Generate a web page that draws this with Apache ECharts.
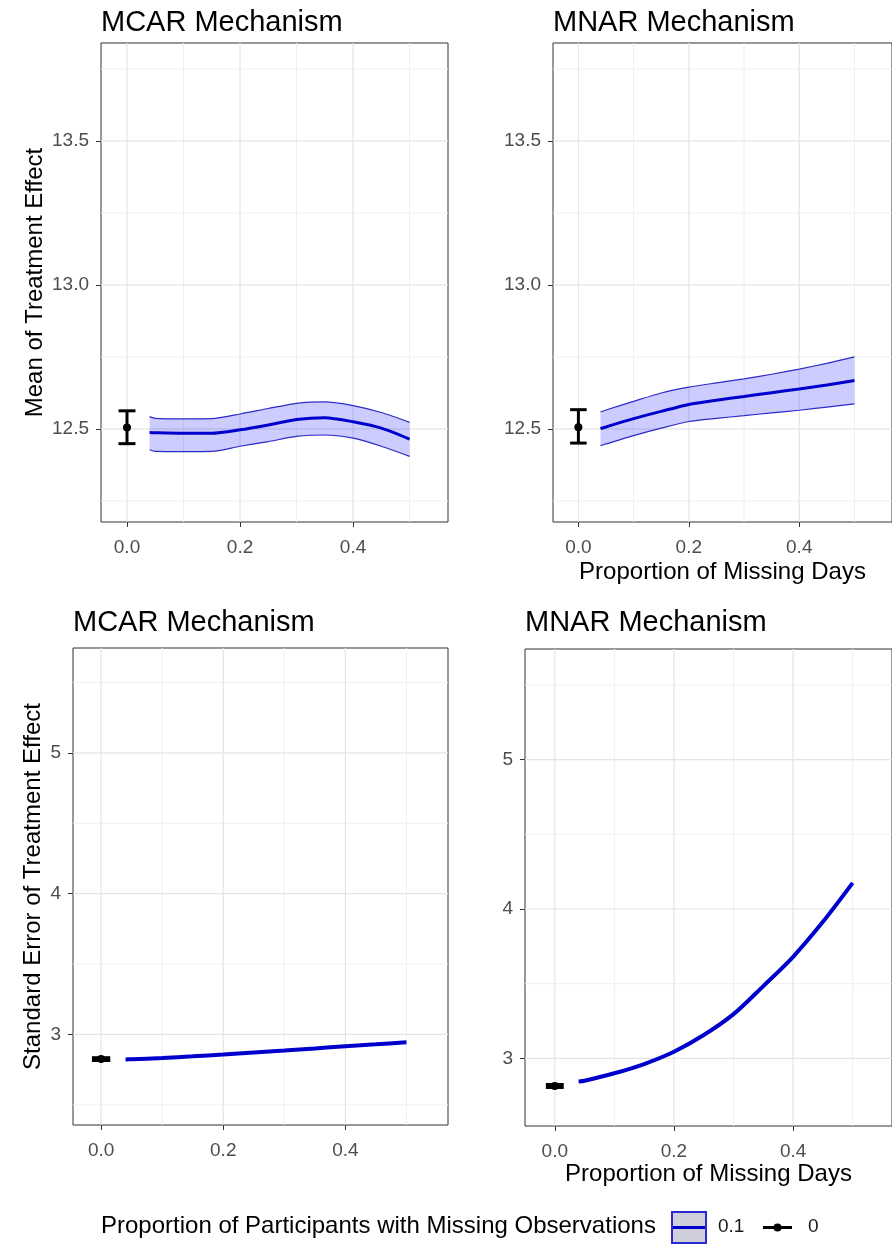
<!DOCTYPE html>
<html>
<head>
<meta charset="utf-8">
<script src="https://cdn.jsdelivr.net/npm/echarts@6/dist/echarts.min.js"></script>
<style>
html,body{margin:0;padding:0;background:#fff;overflow:hidden;}
#c{width:892px;height:1245px;}
</style>
</head>
<body>
<div id="c"></div>
<script>
// ---------------- data ----------------
const xs = [0.04, 0.05, 0.1, 0.15, 0.2, 0.25, 0.3, 0.35, 0.4, 0.45, 0.5];

// MCAR mean of treatment effect (proportion participants 0.1)
const mcarMean  = [12.488, 12.487, 12.485, 12.485, 12.497, 12.514, 12.533, 12.539, 12.525, 12.503, 12.465];
const mcarUpper = [12.543, 12.537, 12.535, 12.536, 12.552, 12.571, 12.589, 12.594, 12.581, 12.557, 12.523];
const mcarLower = [12.428, 12.422, 12.421, 12.422, 12.440, 12.456, 12.474, 12.479, 12.468, 12.440, 12.405];

// MNAR mean of treatment effect
const mnarMean  = [12.501, 12.507, 12.536, 12.561, 12.585, 12.600, 12.613, 12.626, 12.639, 12.653, 12.668];
const mnarUpper = [12.559, 12.566, 12.596, 12.625, 12.645, 12.660, 12.674, 12.690, 12.708, 12.728, 12.750];
const mnarLower = [12.442, 12.448, 12.477, 12.503, 12.526, 12.537, 12.546, 12.556, 12.565, 12.576, 12.587];

// Standard error of treatment effect
const mcarSE = [2.822, 2.824, 2.833, 2.845, 2.858, 2.872, 2.886, 2.901, 2.917, 2.930, 2.945];
const mnarSE = [2.845, 2.850, 2.900, 2.962, 3.044, 3.156, 3.296, 3.484, 3.680, 3.914, 4.175];

// proportion of participants = 0 (x, mean, lower, upper)
const zeroMeanMCAR = [0, 12.505, 12.449, 12.563];
const zeroMeanMNAR = [0, 12.506, 12.451, 12.567];
const zeroSEMCAR   = [0, 2.825, 2.815, 2.835];
const zeroSEMNAR   = [0, 2.815, 2.805, 2.825];

// ticks / gridlines
const xTicks = [0, 0.2, 0.4];
const xMinor = [0.1, 0.3, 0.5];
const meanTicks = [12.5, 13.0, 13.5];
const meanMinor = [12.25, 12.75, 13.25, 13.75];
const seTicks = [3, 4, 5];
const seMinor = [2.5, 3.5, 4.5, 5.5];

const titles = ['MCAR Mechanism', 'MNAR Mechanism', 'MCAR Mechanism', 'MNAR Mechanism'];
const xTitle = 'Proportion of Missing Days';
const yTitleMean = 'Mean of Treatment Effect';
const yTitleSE = 'Standard Error of Treatment Effect';
const legendTitle = 'Proportion of Participants with Missing Observations';
const legendLabels = ['0.1', '0'];

// ---------------- styling ----------------
const FONT = '"Liberation Sans", Arial, Helvetica, sans-serif';
const BLUE = '#0000CD';
const EDGE = '#2B2BC8';
const FILL = 'rgba(0,0,255,0.2)';
const SMOOTH = 0.25;

const grids = [
  {left: 101, top: 43, width: 347, height: 479},
  {left: 553, top: 43, width: 347, height: 479},
  {left: 73, top: 648, width: 375, height: 477},
  {left: 525, top: 649, width: 375, height: 477}
];
const xRanges = [[-0.046, 0.568], [-0.046, 0.568], [-0.046, 0.568], [-0.05, 0.566]];
const yRanges = [[12.177, 13.84], [12.177, 13.84], [2.357, 5.745], [2.547, 5.741]];

function zip(a, b) { return a.map((v, i) => [v, b[i]]); }

function xAxisOf(i, withName, gap) {
  return {
    type: 'value', gridIndex: i, min: xRanges[i][0], max: xRanges[i][1],
    splitLine: {show: false}, axisLine: {show: false, onZero: false},
    axisTick: {show: true, length: 5, lineStyle: {color: '#333', width: 1}, customValues: xTicks},
    axisLabel: {customValues: xTicks, formatter: v => v.toFixed(1), fontSize: 19, color: '#4D4D4D', margin: 16, fontFamily: FONT},
    name: withName ? xTitle : '', nameLocation: 'middle', nameGap: gap || 38,
    nameTextStyle: {fontSize: 24, color: '#000', fontFamily: FONT}
  };
}
function yAxisOf(i, ticks, fmt, name, gap) {
  return {
    type: 'value', gridIndex: i, min: yRanges[i][0], max: yRanges[i][1],
    splitLine: {show: false}, axisLine: {show: false, onZero: false},
    axisTick: {show: true, length: 5, lineStyle: {color: '#333', width: 1}, customValues: ticks},
    axisLabel: {customValues: ticks, formatter: fmt, fontSize: 19, color: '#4D4D4D', margin: 12, fontFamily: FONT},
    name: name || '', nameLocation: 'middle', nameRotate: 90, nameGap: gap || 50,
    nameTextStyle: {fontSize: 24, color: '#000', fontFamily: FONT}
  };
}

function vGridSeries(i, vals, color, w) {
  return {
    type: 'custom', xAxisIndex: i, yAxisIndex: i, z: 1, silent: true, clip: true,
    data: vals.map(v => [v, yRanges[i][0]]),
    renderItem: (params, api) => {
      const cs = params.coordSys;
      const px = api.coord([api.value(0), api.value(1)])[0];
      return {type: 'line', shape: {x1: px, y1: cs.y, x2: px, y2: cs.y + cs.height}, style: {stroke: color, lineWidth: w}};
    }
  };
}
function hGridSeries(i, vals, color, w) {
  return {
    type: 'custom', xAxisIndex: i, yAxisIndex: i, z: 1, silent: true, clip: true,
    data: vals.map(v => [xRanges[i][0], v]),
    renderItem: (params, api) => {
      const cs = params.coordSys;
      const py = api.coord([api.value(0), api.value(1)])[1];
      return {type: 'line', shape: {x1: cs.x, y1: py, x2: cs.x + cs.width, y2: py}, style: {stroke: color, lineWidth: w}};
    }
  };
}
function gridSeries(i, yMajor, yMinor) {
  return [
    vGridSeries(i, xMinor, '#EFEFEF', 1),
    hGridSeries(i, yMinor, '#EFEFEF', 1),
    vGridSeries(i, xTicks, '#E4E4E4', 1.2),
    hGridSeries(i, yMajor, '#E4E4E4', 1.2)
  ];
}

function errSeries(i, rec) {
  return {
    type: 'custom', xAxisIndex: i, yAxisIndex: i, z: 6, silent: true,
    data: [rec],
    renderItem: (params, api) => {
      const x = api.value(0), m = api.value(1), lo = api.value(2), hi = api.value(3);
      const pLo = api.coord([x, lo]), pHi = api.coord([x, hi]), pM = api.coord([x, m]);
      const hw = api.size([0.015, 0])[0];
      const st = {stroke: '#000', lineWidth: 3};
      return {type: 'group', children: [
        {type: 'line', shape: {x1: pLo[0], y1: pLo[1], x2: pHi[0], y2: pHi[1]}, style: st},
        {type: 'line', shape: {x1: pLo[0] - hw, y1: pLo[1], x2: pLo[0] + hw, y2: pLo[1]}, style: st},
        {type: 'line', shape: {x1: pHi[0] - hw, y1: pHi[1], x2: pHi[0] + hw, y2: pHi[1]}, style: st},
        {type: 'circle', shape: {cx: pM[0], cy: pM[1], r: 4}, style: {fill: '#000'}}
      ]};
    }
  };
}

// ribbon polygon drawn through the axis scales (one polygon from all rows)
function ribbonSeries(i, lower, upper) {
  return {
    type: 'custom', xAxisIndex: i, yAxisIndex: i, z: 2, silent: true,
    data: xs.map((x, k) => [x, lower[k], upper[k]]),
    encode: {x: 0, y: [1, 2]},
    renderItem: (params, api) => {
      if (params.dataIndexInside !== 0) return null;
      const n = params.dataInsideLength;
      const up = [], lo = [];
      for (let k = 0; k < n; k++) {
        up.push(api.coord([api.value(0, k), api.value(2, k)]));
        lo.push(api.coord([api.value(0, k), api.value(1, k)]));
      }
      return {type: 'polygon', shape: {points: up.concat(lo.reverse())}, style: {fill: FILL}};
    }
  };
}

function bandSeries(i, lower, upper, mean) {
  return [
    ribbonSeries(i, lower, upper),
    {type: 'line', xAxisIndex: i, yAxisIndex: i, data: zip(xs, upper), symbol: 'none', smooth: SMOOTH,
     lineStyle: {color: EDGE, width: 1.2}, silent: true, z: 3},
    {type: 'line', xAxisIndex: i, yAxisIndex: i, data: zip(xs, lower), symbol: 'none', smooth: SMOOTH,
     lineStyle: {color: EDGE, width: 1.2}, silent: true, z: 3},
    {type: 'line', xAxisIndex: i, yAxisIndex: i, data: zip(xs, mean), symbol: 'none', smooth: SMOOTH,
     lineStyle: {color: BLUE, width: 3}, silent: true, z: 4}
  ];
}
function seLine(i, vals) {
  return {type: 'line', xAxisIndex: i, yAxisIndex: i, data: zip(xs, vals), symbol: 'none', smooth: 0.3,
          lineStyle: {color: BLUE, width: 4}, silent: true, z: 4};
}

const series = [].concat(
  gridSeries(0, meanTicks, meanMinor),
  gridSeries(1, meanTicks, meanMinor),
  gridSeries(2, seTicks, seMinor),
  gridSeries(3, seTicks, seMinor.filter(v => v > yRanges[3][0])),
  bandSeries(0, mcarLower, mcarUpper, mcarMean),
  bandSeries(1, mnarLower, mnarUpper, mnarMean),
  [seLine(2, mcarSE), seLine(3, mnarSE)],
  [errSeries(0, zeroMeanMCAR), errSeries(1, zeroMeanMNAR), errSeries(2, zeroSEMCAR), errSeries(3, zeroSEMNAR)]
);

const titleTops = [8, 8, 608, 608];
const chart = echarts.init(document.getElementById('c'), null, {renderer: 'canvas'});
chart.setOption({
  animation: false,
  backgroundColor: '#fff',
  title: titles.map((t, i) => ({
    text: t, left: grids[i].left, top: titleTops[i], padding: 0,
    textStyle: {fontSize: 29, fontWeight: 'normal', color: '#000', fontFamily: FONT}
  })),
  grid: grids.map(g => Object.assign({show: true, borderColor: '#333', borderWidth: 1, backgroundColor: '#fff'}, g)),
  xAxis: [xAxisOf(0, false), xAxisOf(1, true, 38), xAxisOf(2, false), xAxisOf(3, true, 35)],
  yAxis: [
    yAxisOf(0, meanTicks, v => v.toFixed(1), yTitleMean, 54),
    yAxisOf(1, meanTicks, v => v.toFixed(1)),
    yAxisOf(2, seTicks, v => String(v), yTitleSE, 28),
    yAxisOf(3, seTicks, v => String(v))
  ],
  series: series,
  graphic: [
    {type: 'text', left: 101, top: 1214, style: {text: legendTitle, fontSize: 24, fill: '#000', fontFamily: FONT}},
    {type: 'rect', shape: {x: 672, y: 1212, width: 34, height: 31}, style: {fill: '#CFCFDC', stroke: '#2A2AD0', lineWidth: 2}},
    {type: 'line', shape: {x1: 673, y1: 1227.5, x2: 705, y2: 1227.5}, style: {stroke: BLUE, lineWidth: 3}},
    {type: 'text', left: 718, top: 1217, style: {text: legendLabels[0], fontSize: 19, fill: '#1A1A1A', fontFamily: FONT}},
    {type: 'line', shape: {x1: 763, y1: 1227.5, x2: 792, y2: 1227.5}, style: {stroke: '#000', lineWidth: 3}},
    {type: 'circle', shape: {cx: 777.5, cy: 1227.5, r: 4}, style: {fill: '#000'}},
    {type: 'text', left: 808, top: 1217, style: {text: legendLabels[1], fontSize: 19, fill: '#1A1A1A', fontFamily: FONT}}
  ]
});
</script>
</body>
</html>
